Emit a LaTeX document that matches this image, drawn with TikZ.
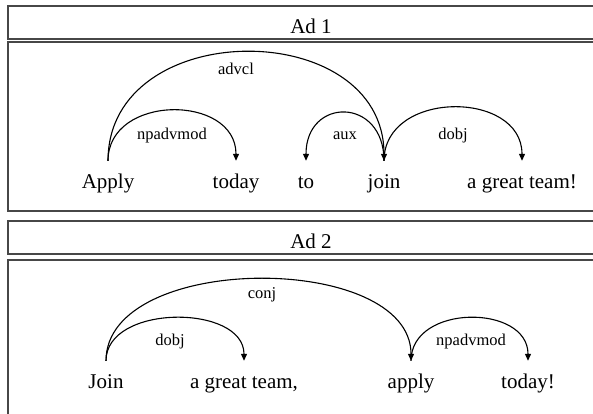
\documentclass[tikz,border=0pt]{standalone}
\usepackage{fontspec}
\setmainfont{Liberation Serif}
\usetikzlibrary{arrows.meta,calc}

\begin{document}
\begin{tikzpicture}[x=1pt,y=-1pt,
  frame/.style={draw=black!72, line width=1.3pt},
  heading/.style={frame, anchor=base, inner xsep=0pt, inner ysep=0pt,
    minimum width=606pt, text height=27pt, text depth=6pt,
    font=\fontsize{21}{24}\selectfont},
  word/.style={anchor=base, inner xsep=0pt, inner ysep=0pt, text height=27pt,
    font=\fontsize{21}{24}\selectfont},
  rel/.style={anchor=base, inner sep=0pt, font=\fontsize{16.5}{19}\selectfont},
  dep/.style={line width=1.1pt, -{Triangle[length=7pt,width=6pt]}}]

\useasboundingbox (0,0) rectangle (593,413);
\clip (0,0) rectangle (593,413);

% ---------------- first sentence ----------------
\node[heading] (h1) at (311,33) {Ad 1};
\draw[frame] (8,42) rectangle (614,211);

\node[word] (a1) at (108,188) {Apply};
\node[word] (a2) at (236,188) {today};
\node[word] (a3) at (306,188) {to};
\node[word] (a4) at (384,188) {join};
\node[word] (a5) at (522,188) {a great team!};

\draw[dep] (a1.north) .. controls ($(a1.north)+(0,-145)$) and ($(a4.north)+(0,-145)$) .. (a4.north);
\draw[dep] (a1.north) .. controls ($(a1.north)+(0,-67)$) and ($(a2.north)+(0,-67)$) .. (a2.north);
\draw[dep] (a4.north) .. controls ($(a4.north)+(0,-64)$) and ($(a3.north)+(0,-64)$) .. (a3.north);
\draw[dep] (a4.north) .. controls ($(a4.north)+(0,-71)$) and ($(a5.north)+(0,-71)$) .. (a5.north);

\node[rel] (r1) at (236,74) {advcl};
\node[rel] (r2) at (172,139) {npadvmod};
\node[rel] (r3) at (345,139) {aux};
\node[rel] (r4) at (453,139) {dobj};

% ---------------- second sentence ----------------
\node[heading] (h2) at (311,248) {Ad 2};
\draw[frame] (8,260) rectangle (614,430);

\node[word] (b1) at (106,388) {Join};
\node[word] (b2) at (244,388) {a great team,};
\node[word] (b3) at (411,388) {apply};
\node[word] (b4) at (528,388) {today!};

\draw[dep] (b1.north) .. controls ($(b1.north)+(0,-109)$) and ($(b3.north)+(0,-109)$) .. (b3.north);
\draw[dep] (b1.north) .. controls ($(b1.north)+(0,-57)$) and ($(b2.north)+(0,-57)$) .. (b2.north);
\draw[dep] (b3.north) .. controls ($(b3.north)+(0,-57)$) and ($(b4.north)+(0,-57)$) .. (b4.north);

\node[rel] (s1) at (262,298) {conj};
\node[rel] (s2) at (170,345) {dobj};
\node[rel] (s3) at (471,345) {npadvmod};
\end{tikzpicture}
\end{document}
